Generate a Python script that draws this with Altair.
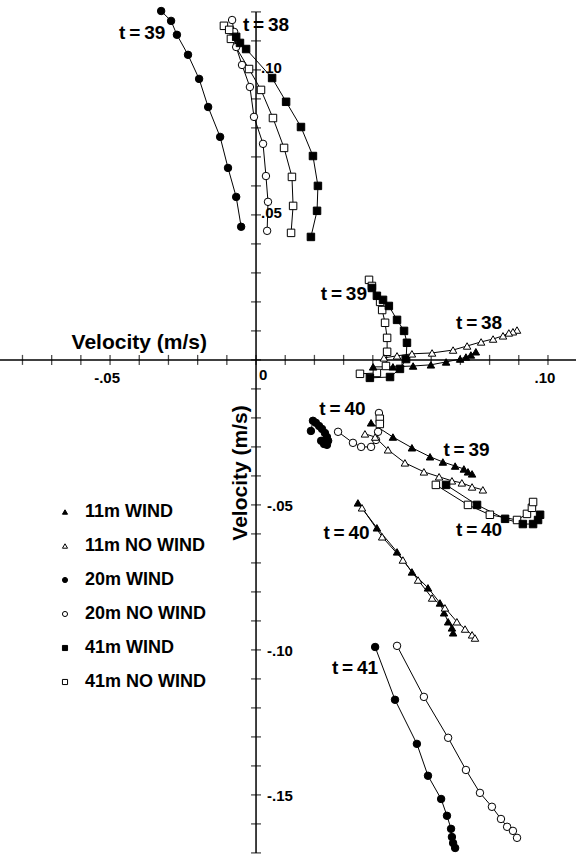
import altair as alt
import pandas as pd

# ---------------- data (velocity components, m/s) ----------------
SERIES = ["11m WIND", "11m NO WIND", "20m WIND", "20m NO WIND", "41m WIND", "41m NO WIND"]
SHAPES = ["triangle-up", "triangle-up", "circle", "circle", "square", "square"]
FILLS = ["black", "white", "black", "white", "black", "white"]
STROKES = ["black"] * 6

# top group
W20_39_X = [-0.0325, -0.0291, -0.0271, -0.0233, -0.0195, -0.0164, -0.0123, -0.0096, -0.0068, -0.0051]
W20_39_Y = [0.1203, 0.1169, 0.1121, 0.1052, 0.0969, 0.0872, 0.0769, 0.0662, 0.0562, 0.0459]
N20_38_X = [-0.0082, -0.0075, -0.0068, -0.0048, -0.0021, -0.0007, 0.0024, 0.0034, 0.0041, 0.0038]
N20_38_Y = [0.1172, 0.1131, 0.1079, 0.1017, 0.0941, 0.0838, 0.0745, 0.0634, 0.0545, 0.0445]
N41_38_X = [-0.0110, -0.0092, -0.0086, -0.0024, 0.0017, 0.0058, 0.0096, 0.0123, 0.0127, 0.0120]
N41_38_Y = [0.1152, 0.1138, 0.1107, 0.1003, 0.0931, 0.0834, 0.0731, 0.0631, 0.0531, 0.0438]
W41_38_X = [-0.0068, -0.0055, -0.0034, 0.0055, 0.0103, 0.0154, 0.0195, 0.0212, 0.0209, 0.0188]
W41_38_Y = [0.1114, 0.1093, 0.1072, 0.0972, 0.0890, 0.0803, 0.0703, 0.0600, 0.0514, 0.0424]

# middle group
N41_39_X = [0.0387, 0.0397, 0.0425, 0.0432, 0.0442, 0.0449, 0.0449, 0.0445, 0.0414, 0.0356]
N41_39_Y = [0.0276, 0.0255, 0.0200, 0.0172, 0.0128, 0.0076, 0.0028, -0.0021, -0.0045, -0.0048]
W41_39_X = [0.0397, 0.0414, 0.0435, 0.0455, 0.0483, 0.0507, 0.0517, 0.0514, 0.0493, 0.0459, 0.0390]
W41_39_Y = [0.0248, 0.0221, 0.0207, 0.0186, 0.0138, 0.0100, 0.0059, 0.0003, -0.0031, -0.0059, -0.0062]
W11_38_X = [0.0753, 0.0736, 0.0719, 0.0699, 0.0651, 0.0599, 0.0538, 0.0469, 0.0401]
W11_38_Y = [0.0028, 0.0017, 0.0010, 0.0003, -0.0007, -0.0017, -0.0021, -0.0024, -0.0024]
N11_38_X = [0.0894, 0.0880, 0.0866, 0.0846, 0.0812, 0.0771, 0.0723, 0.0675, 0.0603, 0.0534, 0.0483, 0.0438]
N11_38_Y = [0.0103, 0.0097, 0.0093, 0.0083, 0.0072, 0.0062, 0.0048, 0.0034, 0.0024, 0.0021, 0.0014, 0.0007]

# t=39 / t=40 group
W20_40_X = [0.0188, 0.0195, 0.0205, 0.0216, 0.0226, 0.0236, 0.0243, 0.0247, 0.0243, 0.0233, 0.0223]
W20_40_Y = [-0.0245, -0.0210, -0.0217, -0.0228, -0.0238, -0.0252, -0.0266, -0.0279, -0.0293, -0.0290, -0.0279]
N20_40_X = [0.0281, 0.0332, 0.0360, 0.0394, 0.0411, 0.0418, 0.0421]
N20_40_Y = [-0.0248, -0.0286, -0.0300, -0.0300, -0.0276, -0.0248, -0.0183]
N41_40A_X = [0.0424, 0.0424]
N41_40A_Y = [-0.0203, -0.0221]
W11_39_X = [0.0394, 0.0469, 0.0534, 0.0596, 0.0640, 0.0682, 0.0712, 0.0726, 0.0740]
W11_39_Y = [-0.0217, -0.0266, -0.0303, -0.0334, -0.0352, -0.0366, -0.0376, -0.0386, -0.0393]
N11_39_X = [0.0373, 0.0408, 0.0452, 0.0510, 0.0575, 0.0627, 0.0671, 0.0705, 0.0740, 0.0777]
N11_39_Y = [-0.0255, -0.0266, -0.0310, -0.0355, -0.0386, -0.0403, -0.0417, -0.0424, -0.0438, -0.0448]
N41_40_X = [0.0616, 0.0726, 0.0801, 0.0894, 0.0928, 0.0945, 0.0949]
N41_40_Y = [-0.0431, -0.0500, -0.0534, -0.0552, -0.0531, -0.0510, -0.0490]
W41_40_X = [0.0651, 0.0757, 0.0853, 0.0914, 0.0949, 0.0966, 0.0973]
W41_40_Y = [-0.0431, -0.0500, -0.0548, -0.0566, -0.0566, -0.0552, -0.0534]

# lower groups
W11_40_X = [0.0349, 0.0414, 0.0483, 0.0534, 0.0589, 0.0630, 0.0644, 0.0658, 0.0671, 0.0675]
W11_40_Y = [-0.0493, -0.0579, -0.0662, -0.0731, -0.0786, -0.0838, -0.0872, -0.0903, -0.0924, -0.0941]
N11_40_X = [0.0363, 0.0432, 0.0503, 0.0555, 0.0603, 0.0647, 0.0688, 0.0716, 0.0740, 0.0750]
N11_40_Y = [-0.0510, -0.0610, -0.0690, -0.0759, -0.0821, -0.0855, -0.0903, -0.0928, -0.0948, -0.0959]
W20_41_X = [0.0408, 0.0476, 0.0551, 0.0589, 0.0634, 0.0654, 0.0668, 0.0671, 0.0675, 0.0682]
W20_41_Y = [-0.0990, -0.1172, -0.1324, -0.1434, -0.1514, -0.1572, -0.1617, -0.1645, -0.1666, -0.1683]
N20_41_X = [0.0483, 0.0575, 0.0658, 0.0719, 0.0767, 0.0808, 0.0839, 0.0860, 0.0880, 0.0894]
N20_41_Y = [-0.0986, -0.1162, -0.1303, -0.1414, -0.1493, -0.1541, -0.1583, -0.1610, -0.1624, -0.1648]

SEGMENTS = [
    ("20m WIND", "20W-39", W20_39_X, W20_39_Y),
    ("20m NO WIND", "20N-38", N20_38_X, N20_38_Y),
    ("41m NO WIND", "41N-38", N41_38_X, N41_38_Y),
    ("41m WIND", "41W-38", W41_38_X, W41_38_Y),
    ("41m NO WIND", "41N-39", N41_39_X, N41_39_Y),
    ("41m WIND", "41W-39", W41_39_X, W41_39_Y),
    ("11m WIND", "11W-38", W11_38_X, W11_38_Y),
    ("11m NO WIND", "11N-38", N11_38_X, N11_38_Y),
    ("20m WIND", "20W-40", W20_40_X, W20_40_Y),
    ("20m NO WIND", "20N-40", N20_40_X, N20_40_Y),
    ("41m NO WIND", "41N-40a", N41_40A_X, N41_40A_Y),
    ("11m WIND", "11W-39", W11_39_X, W11_39_Y),
    ("11m NO WIND", "11N-39", N11_39_X, N11_39_Y),
    ("41m NO WIND", "41N-40", N41_40_X, N41_40_Y),
    ("41m WIND", "41W-40", W41_40_X, W41_40_Y),
    ("11m WIND", "11W-40", W11_40_X, W11_40_Y),
    ("11m NO WIND", "11N-40", N11_40_X, N11_40_Y),
    ("20m WIND", "20W-41", W20_41_X, W20_41_Y),
    ("20m NO WIND", "20N-41", N20_41_X, N20_41_Y),
]

# time annotations
T_TEXT = ["t\u2009=\u200939", "t\u2009=\u200938", "t\u2009=\u200939", "t\u2009=\u200938", "t\u2009=\u200940",
          "t\u2009=\u200939", "t\u2009=\u200940", "t\u2009=\u200940", "t\u2009=\u200941"]
T_X = [-0.0390, 0.0034, 0.0301, 0.0764, 0.0296, 0.0721, 0.0764, 0.0310, 0.0339]
T_Y = [0.1126, 0.1155, 0.0226, 0.0126, -0.0169, -0.0310, -0.0586, -0.0598, -0.1064]

# axes
X_DOMAIN = [-0.0877, 0.1096]
Y_DOMAIN = [-0.1721, 0.1241]
X_TICKS = [round(-0.08 + 0.01 * i, 2) for i in range(19)]
Y_TICKS = [round(-0.17 + 0.01 * i, 2) for i in range(30)]
X_LABEL_VALUES = [-0.05, 0.10]
X_LABEL_TEXT = ["-.05", ".10"]
Y_POS_VALUES = [0.10, 0.05]
Y_POS_TEXT = [".10", ".05"]
Y_NEG_VALUES = [-0.05, -0.10, -0.15]
Y_NEG_TEXT = ["-.05", "-.10", "-.15"]

FONT = "Liberation Sans"

rows = []
for series, seg, xs_, ys_ in SEGMENTS:
    for i, (a, b) in enumerate(zip(xs_, ys_)):
        rows.append({"series": series, "seg": seg, "idx": i, "x": a, "y": b})
df = pd.DataFrame(rows)

xsc = alt.Scale(domain=X_DOMAIN, nice=False, zero=False)
ysc = alt.Scale(domain=Y_DOMAIN, nice=False, zero=False)
X = alt.X("x:Q", scale=xsc, axis=None)
Y = alt.Y("y:Q", scale=ysc, axis=None)

axis_lines = alt.Chart(pd.DataFrame({
    "x": [X_DOMAIN[0], 0.0], "x2": [X_DOMAIN[1], 0.0],
    "y": [0.0, Y_TICKS[0]], "y2": [0.0, Y_TICKS[-1]],
})).mark_rule(color="black", strokeWidth=1.5).encode(x=X, x2="x2:Q", y=Y, y2="y2:Q")

xticks = alt.Chart(pd.DataFrame({"x": X_TICKS, "y": [0.0] * len(X_TICKS)})).mark_tick(
    orient="vertical", size=10, thickness=1.3, color="black").encode(x=X, y=Y)
yticks = alt.Chart(pd.DataFrame({"x": [0.0] * len(Y_TICKS), "y": Y_TICKS})).mark_tick(
    orient="horizontal", size=10, thickness=1.3, color="black").encode(x=X, y=Y)

xlabels = alt.Chart(pd.DataFrame({"x": X_LABEL_VALUES, "y": [0.0, 0.0], "t": X_LABEL_TEXT})).mark_text(
    font=FONT, fontSize=15, fontWeight="bold", align="center", baseline="middle", dx=-3, dy=18,
    color="black").encode(x=X, y=Y, text="t:N")
zero_label = alt.Chart(pd.DataFrame({"x": [0.0], "y": [0.0], "t": ["0"]})).mark_text(
    font=FONT, fontSize=15, fontWeight="bold", align="left", baseline="middle", dx=3, dy=15,
    color="black").encode(x=X, y=Y, text="t:N")
ypos_labels = alt.Chart(pd.DataFrame({"x": [0.0, 0.0], "y": Y_POS_VALUES, "t": Y_POS_TEXT})).mark_text(
    font=FONT, fontSize=15, fontWeight="bold", align="left", baseline="middle", dx=5, dy=-2,
    color="black").encode(x=X, y=Y, text="t:N")
yneg_labels = alt.Chart(pd.DataFrame({"x": [0.0] * 3, "y": Y_NEG_VALUES, "t": Y_NEG_TEXT})).mark_text(
    font=FONT, fontSize=15, fontWeight="bold", align="left", baseline="middle", dx=11, dy=1,
    color="black").encode(x=X, y=Y, text="t:N")

xtitle = alt.Chart(pd.DataFrame({"x": [-0.0400], "y": [0.0038], "t": ["Velocity (m/s)"]})).mark_text(
    font=FONT, fontSize=21, fontWeight="bold", align="center", baseline="alphabetic",
    color="black").encode(x=X, y=Y, text="t:N")
ytitle = alt.Chart(pd.DataFrame({"x": [-0.0030], "y": [-0.0390], "t": ["Velocity (m/s)"]})).mark_text(
    font=FONT, fontSize=21, fontWeight="bold", align="center", baseline="alphabetic", angle=270,
    color="black").encode(x=X, y=Y, text="t:N")

tlabels = alt.Chart(pd.DataFrame({"x": T_X, "y": T_Y, "t": T_TEXT})).mark_text(
    font=FONT, fontSize=19, fontWeight="bold", align="center", baseline="middle",
    color="black").encode(x=X, y=Y, text="t:N")

lines = alt.Chart(df).mark_line(color="black", strokeWidth=1).encode(
    x=X, y=Y, detail="seg:N", order="idx:Q")

leg = alt.Legend(title=None, orient="none", legendX=56, legendY=503, symbolSize=26,
                 labelFontSize=18, labelFont=FONT, labelFontWeight="bold", labelColor="black",
                 rowPadding=16, symbolStrokeWidth=1, labelOffset=11, padding=0)
points = alt.Chart(df).mark_point(filled=True, size=56, strokeWidth=1, opacity=1).encode(
    x=X, y=Y,
    shape=alt.Shape("series:N", scale=alt.Scale(domain=SERIES, range=SHAPES), legend=leg),
    fill=alt.Fill("series:N", scale=alt.Scale(domain=SERIES, range=FILLS), legend=leg),
    stroke=alt.Stroke("series:N", scale=alt.Scale(domain=SERIES, range=STROKES), legend=leg),
)

chart = alt.layer(
    axis_lines, xticks, yticks, xlabels, zero_label, ypos_labels, yneg_labels,
    xtitle, ytitle, lines, points, tlabels,
).properties(width=576, height=859, padding=0, autosize="none",
             background="white").configure_view(stroke=None)

chart.save("out.html", embed_options={"renderer": "svg", "actions": False})
